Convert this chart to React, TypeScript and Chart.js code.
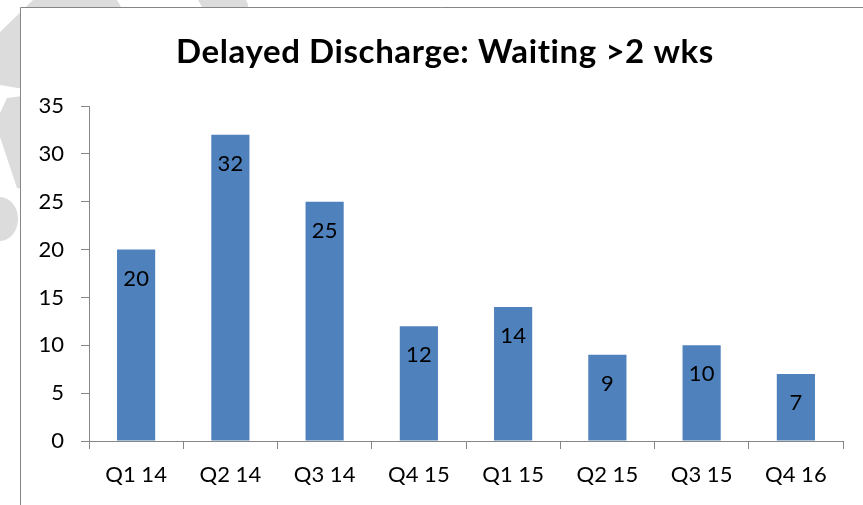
import React, { useEffect, useRef } from "react";
import { Chart, registerables } from "chart.js";

Chart.register(...registerables);

const categories = ["Q1 14", "Q2 14", "Q3 14", "Q4 15", "Q1 15", "Q2 15", "Q3 15", "Q4 16"];
const values = [20, 32, 25, 12, 14, 9, 10, 7];
const yMin = 0;
const yMax = 35;
const yStep = 5;
const titleText = "Delayed Discharge: Waiting >2 wks";

const FONT = "Lato, 'Open Sans', sans-serif";
const AXIS = "#868686";
const BAR = "#4F81BD";
const WM = "#dcdcdc";

const framePlugin = {
  id: "frame",
  beforeDraw(chart: any) {
    const ctx = chart.ctx;
    const W = chart.width;
    const H = chart.height;
    ctx.save();
    ctx.fillStyle = "#ffffff";
    ctx.fillRect(0, 0, W, H);
    // watermark fragments visible outside the chart frame
    ctx.fillStyle = WM;
    ctx.beginPath();
    ctx.moveTo(0, 32);
    ctx.lineTo(33, 0);
    ctx.lineTo(117, 0);
    ctx.lineTo(124, 12);
    ctx.lineTo(30, 90);
    ctx.lineTo(0, 85);
    ctx.closePath();
    ctx.fill();
    ctx.beginPath();
    ctx.moveTo(0, 113);
    ctx.lineTo(7, 98);
    ctx.lineTo(30, 95);
    ctx.lineTo(30, 190);
    ctx.lineTo(17, 188);
    ctx.lineTo(0, 137);
    ctx.closePath();
    ctx.fill();
    ctx.beginPath();
    ctx.ellipse(0, 219, 18, 22, 0, 0, Math.PI * 2);
    ctx.fill();
    ctx.beginPath();
    ctx.moveTo(198, 0);
    ctx.lineTo(246, 0);
    ctx.quadraticCurveTo(250, 6, 246, 12);
    ctx.lineTo(205, 12);
    ctx.closePath();
    ctx.fill();
    // white chart frame
    ctx.fillStyle = "#ffffff";
    ctx.fillRect(20, 7, W - 20, H - 7);
    ctx.strokeStyle = AXIS;
    ctx.lineWidth = 1;
    ctx.beginPath();
    ctx.moveTo(20.5, H);
    ctx.lineTo(20.5, 7.5);
    ctx.lineTo(W, 7.5);
    ctx.stroke();
    // title
    ctx.fillStyle = "#000000";
    ctx.font = "bold 33px " + FONT;
    try {
      (ctx as any).letterSpacing = "0.6px";
    } catch (e) {}
    ctx.textAlign = "center";
    ctx.textBaseline = "alphabetic";
    ctx.fillText(titleText, 445, 63);
    ctx.restore();
  },
  afterDatasetsDraw(chart: any) {
    const ctx = chart.ctx;
    const meta = chart.getDatasetMeta(0);
    const data = chart.data.datasets[0].data;
    ctx.save();
    ctx.fillStyle = "#000000";
    ctx.font = "22px " + FONT;
    ctx.textAlign = "center";
    ctx.textBaseline = "middle";
    meta.data.forEach((bar: any, i: number) => {
      ctx.fillText(String(data[i]), bar.x, bar.y + 29);
    });
    ctx.restore();
  },
};

export default function App() {
  const ref = useRef<HTMLCanvasElement | null>(null);

  useEffect(() => {
    document.body.style.margin = "0";
    const canvas = ref.current;
    if (!canvas) return;
    const chart = new Chart(canvas, {
      type: "bar",
      data: {
        labels: categories,
        datasets: [
          {
            data: values,
            backgroundColor: BAR,
            borderWidth: 0,
            barPercentage: 0.405,
            categoryPercentage: 1,
          },
        ],
      },
      options: {
        responsive: false,
        animation: false,
        devicePixelRatio: 1,
        layout: { padding: { top: 106, right: 20, bottom: 0, left: 0 } },
        plugins: {
          legend: { display: false },
          title: { display: false },
          tooltip: { enabled: false },
        },
        scales: {
          y: {
            min: yMin,
            max: yMax,
            ticks: {
              stepSize: yStep,
              color: "#000000",
              font: { family: FONT, size: 22 },
              padding: 17,
            },
            grid: {
              display: true,
              drawOnChartArea: false,
              drawTicks: true,
              tickLength: 8,
              color: AXIS,
            },
            border: { display: true, color: AXIS, width: 1 },
            afterFit: (s: any) => {
              s.width = 89;
            },
          },
          x: {
            ticks: {
              color: "#000000",
              font: { family: FONT, size: 22 },
              padding: 13,
              maxRotation: 0,
              autoSkip: false,
            },
            grid: {
              display: true,
              offset: true,
              drawOnChartArea: false,
              drawTicks: true,
              tickLength: 8,
              color: AXIS,
            },
            border: { display: true, color: AXIS, width: 1 },
            afterFit: (s: any) => {
              s.height = 64;
            },
          },
        },
      },
      plugins: [framePlugin],
    });
    return () => chart.destroy();
  }, []);

  return (
    <div style={{ width: 863, height: 505, overflow: "hidden" }}>
      <canvas ref={ref} width={863} height={505} style={{ display: "block" }} />
    </div>
  );
}
